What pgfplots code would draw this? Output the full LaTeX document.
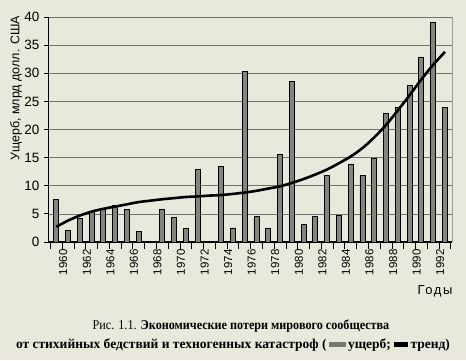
\documentclass[border=0pt]{standalone}
\usepackage{pgfplots}
\pgfplotsset{compat=1.18}
\usepackage{fontspec}
\setmainfont{Liberation Sans}
\newfontfamily\capfont{Liberation Serif}
\definecolor{paper}{RGB}{233,232,220}
\definecolor{barfill}{RGB}{132,132,124}
\definecolor{gridc}{RGB}{115,115,110}
\begin{document}
\begin{tikzpicture}[x=1pt,y=1pt]
\fill[paper] (0,0) rectangle (466,360);
\path[use as bounding box] (0,0) rectangle (466,360);
\begin{axis}[
  at={(48pt,118pt)}, anchor=south west,
  width=404pt, height=225pt, scale only axis,
  xmin=1959.3, xmax=1993.6, ymin=0, ymax=40,
  axis lines=left,
  axis line style={-, black, line width=1pt},
  x axis line style={line width=1.6pt},
  ytick={0,5,...,40},
  xtick={1960,1962,...,1992},
  minor xtick={1959.5,1960.5,...,1993.5},
  tick align=outside,
  major tick length=4pt,
  minor tick length=7pt,
  major x tick style={draw=none},
  every tick/.style={black, line width=0.8pt},
  ymajorgrids,
  grid style={gridc, line width=0.7pt},
  yticklabel style={font=\fontsize{13.5}{14}\selectfont, xshift=-1pt},
  xticklabel style={rotate=90, anchor=east, font=\fontsize{11.5}{12}\selectfont, yshift=-7pt},
  /pgf/number format/assume math mode=true,
  /pgf/number format/1000 sep={},
  clip=false,
]
\draw[gridc!70, line width=0.6pt] (rel axis cs:1,0) -- (rel axis cs:1,1);
\addplot[ybar, bar width=5pt, fill=barfill, draw=black, line width=0.8pt] coordinates {
(1960,7.5) (1961,2.0) (1962,4.2) (1963,5.5) (1964,6.0) (1965,6.5) (1966,5.8) (1967,1.8)
(1969,5.8) (1970,4.4) (1971,2.4) (1972,12.9) (1974,13.5) (1975,2.5)
(1976,30.4) (1977,4.5) (1978,2.5) (1979,15.6) (1980,28.6) (1981,3.2) (1982,4.6) (1983,11.8)
(1984,4.7) (1985,13.8) (1986,11.8) (1987,14.9) (1988,22.9) (1989,23.9) (1990,27.9)
(1991,32.9) (1992,39.1) (1993,24.0)
};
\addplot[black, line width=2.6pt, smooth, no markers] coordinates {
(1960,2.7) (1961,3.8) (1962,4.7) (1963,5.4) (1964,5.9) (1965,6.3) (1966,6.7) (1967,7.1)
(1968,7.35) (1969,7.6) (1970,7.8) (1971,8.0) (1972,8.1) (1973,8.25) (1974,8.35) (1975,8.55)
(1976,8.8) (1977,9.1) (1978,9.5) (1979,9.9) (1980,10.5) (1981,11.2) (1982,12.0) (1983,12.9)
(1984,14.0) (1985,15.2) (1986,16.7) (1987,18.6) (1988,20.8) (1989,23.4) (1990,26.1)
(1991,28.9) (1992,31.5) (1993,33.8)
};
\end{axis}
\node[rotate=90, font=\fontsize{12.5}{13}\selectfont] at (16,272) {Ущерб, млрд долл. США};
\node[font=\fontsize{13}{14}\selectfont\addfontfeature{LetterSpace=12}] at (435,69) {Годы};
\node[anchor=base, xscale=0.9, font=\capfont\fontsize{13.5}{15}\selectfont] at (241,31)
  {Рис. 1.1. \textbf{Экономические потери мирового сообщества}};
\node[anchor=base, font=\capfont\fontsize{13.5}{15}\selectfont] at (233,12)
  {\textbf{от стихийных бедствий и техногенных катастроф (}\,{\color{barfill!90!black}\rule[1.5pt]{17pt}{5pt}}\,\textbf{ущерб;} {\rule[1.5pt]{14pt}{5pt}}\,\textbf{тренд)}};
\end{tikzpicture}
\end{document}
